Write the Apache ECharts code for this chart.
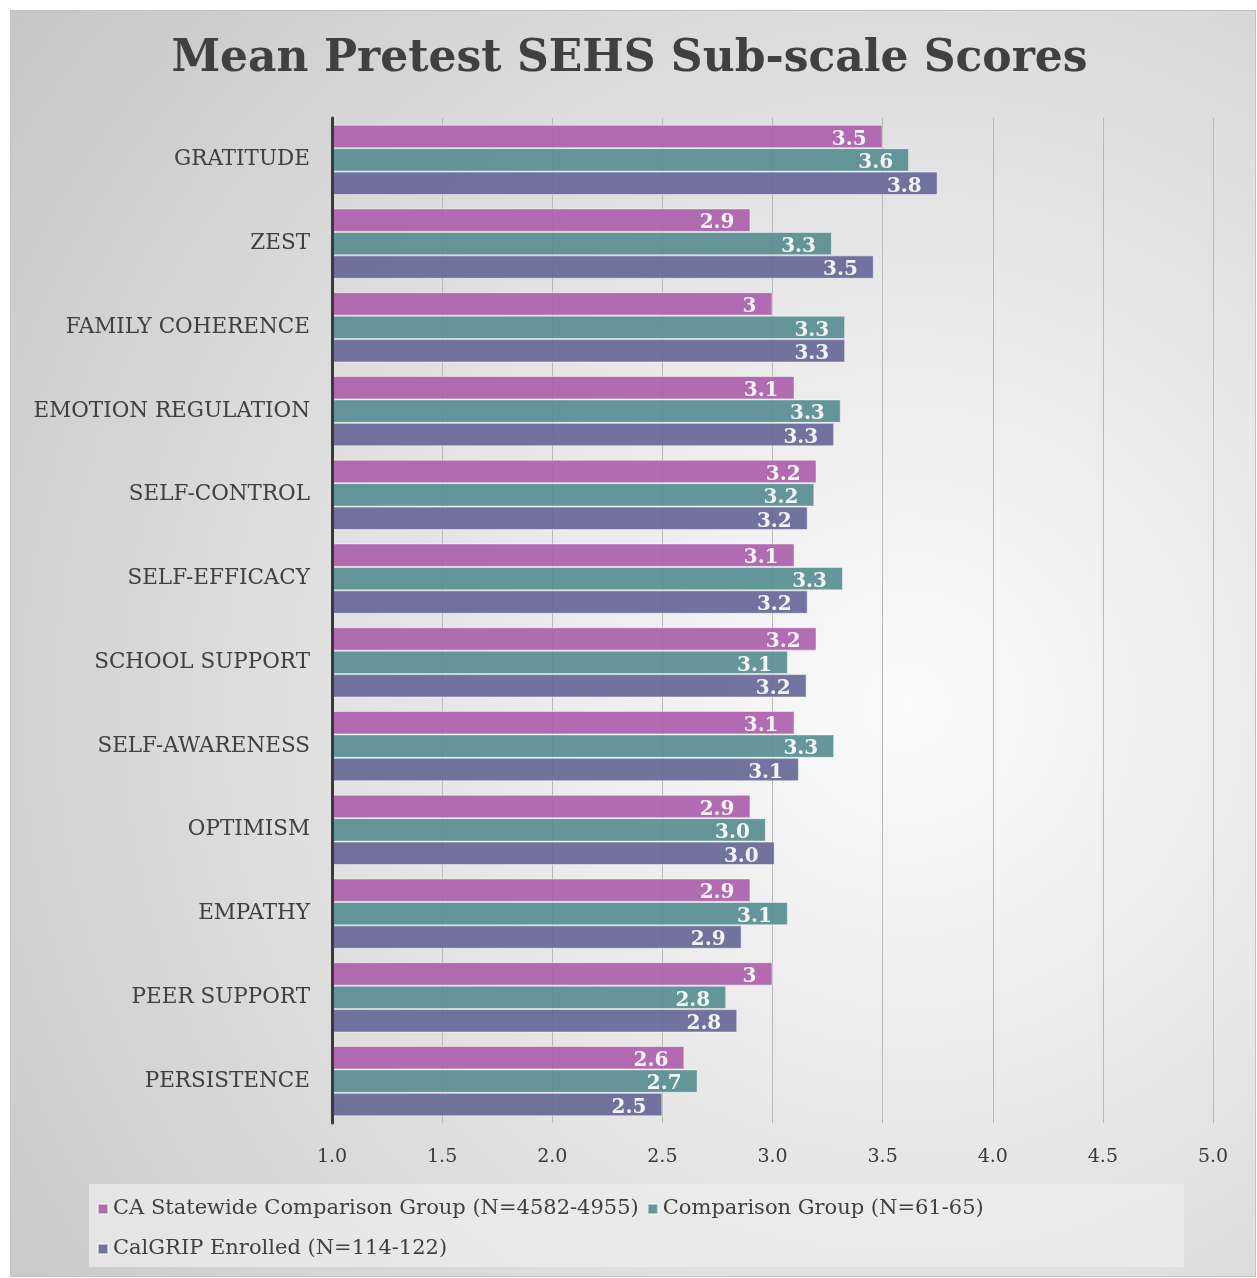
<!DOCTYPE html>
<html>
<head>
<meta charset="utf-8">
<script src="https://cdn.jsdelivr.net/npm/echarts@6/dist/echarts.min.js"></script>
<style>
html, body { margin: 0; padding: 0; background: #fff; }
#wrap {
    position: absolute; left: 10px; top: 10px; width: 1246px; height: 1267px;
    border: 1px solid #c2c2c2; box-sizing: border-box;
    background: radial-gradient(circle at 72% 55%, #fbfbfb 0%, #e8e8e8 38%, #c6c6c6 100%);
}
#main { position: absolute; left: -10px; top: -10px; width: 1257px; height: 1278px; }
</style>
</head>
<body>
<div id="wrap"><div id="main"></div></div>
<script>
var categories = ['GRATITUDE', 'ZEST', 'FAMILY COHERENCE', 'EMOTION REGULATION', 'SELF-CONTROL',
    'SELF-EFFICACY', 'SCHOOL SUPPORT', 'SELF-AWARENESS', 'OPTIMISM', 'EMPATHY', 'PEER SUPPORT', 'PERSISTENCE'];
var statewide = [3.5, 2.9, 3, 3.1, 3.2, 3.1, 3.2, 3.1, 2.9, 2.9, 3, 2.6];
var comparison = [3.62, 3.27, 3.33, 3.31, 3.19, 3.32, 3.07, 3.28, 2.97, 3.07, 2.79, 2.66];
var calgrip = [3.75, 3.46, 3.33, 3.28, 3.16, 3.16, 3.155, 3.12, 3.01, 2.86, 2.84, 2.5];
var seriesNames = ['CA Statewide Comparison Group (N=4582-4955)', 'Comparison Group (N=61-65)', 'CalGRIP Enrolled (N=114-122)'];

var serif = '"DejaVu Serif", Georgia, serif';
var dom = document.getElementById('main');
var myChart = echarts.init(dom);

function makeSeries(name, data, color, raw) {
    return {
        name: name,
        type: 'bar',
        data: data,
        barGap: '0%',
        barCategoryGap: '16%',
        itemStyle: {
            color: color,
            opacity: 0.92,
            borderColor: 'rgba(255,255,255,0.55)',
            borderWidth: 1
        },
        label: {
            show: true,
            position: 'insideRight',
            distance: 16,
            offset: [0, 3],
            color: '#fff',
            fontFamily: serif,
            fontWeight: 'bold',
            fontSize: 20,
            formatter: function (p) {
                return raw ? String(p.value) : p.value.toFixed(1);
            }
        }
    };
}

option = {
    title: {
        text: 'Mean Pretest SEHS Sub-scale Scores',
        left: 'center',
        top: 32,
        textStyle: {
            fontFamily: serif,
            fontWeight: 'bold',
            fontSize: 44,
            color: '#404040'
        }
    },
    // legend box behind the legend items
    graphic: [{
        type: 'rect',
        left: 88,
        top: 1183,
        shape: { width: 1095, height: 83 },
        style: { fill: 'rgba(238,238,238,0.7)' },
        z: -1
    }],
    legend: {
        left: 88,
        top: 1183,
        width: 1060,
        padding: [9, 14, 10, 8],
        icon: 'rect',
        itemWidth: 10,
        itemHeight: 10,
        itemGap: 8,
        textStyle: {
            fontFamily: serif,
            fontSize: 21,
            color: '#404040',
            lineHeight: 32
        },
        data: seriesNames
    },
    grid: {
        left: 331,
        right: 45,
        top: 117,
        bottom: 156
    },
    xAxis: {
        type: 'value',
        min: 1,
        max: 5,
        interval: 0.5,
        axisLine: { show: false },
        axisTick: { show: false },
        splitLine: { lineStyle: { color: '#b8b8b8', width: 1 } },
        axisLabel: {
            margin: 25,
            fontFamily: serif,
            fontSize: 19,
            color: '#3a3a3a',
            formatter: function (v) { return v.toFixed(1); }
        }
    },
    yAxis: {
        type: 'category',
        inverse: true,
        z: 5,
        data: categories,
        axisLine: { show: true, lineStyle: { color: '#3a3a3a', width: 3 } },
        axisTick: { show: false },
        axisLabel: {
            margin: 22,
            fontFamily: serif,
            fontSize: 21.5,
            color: '#404040'
        }
    },
    series: [
        makeSeries(seriesNames[0], statewide, '#aa60ab', true),
        makeSeries(seriesNames[1], comparison, '#578d91', false),
        makeSeries(seriesNames[2], calgrip, '#666797', false)
    ]
};

if (option && typeof option === 'object') {
    myChart.setOption(option, true);
}
</script>
</body>
</html>
